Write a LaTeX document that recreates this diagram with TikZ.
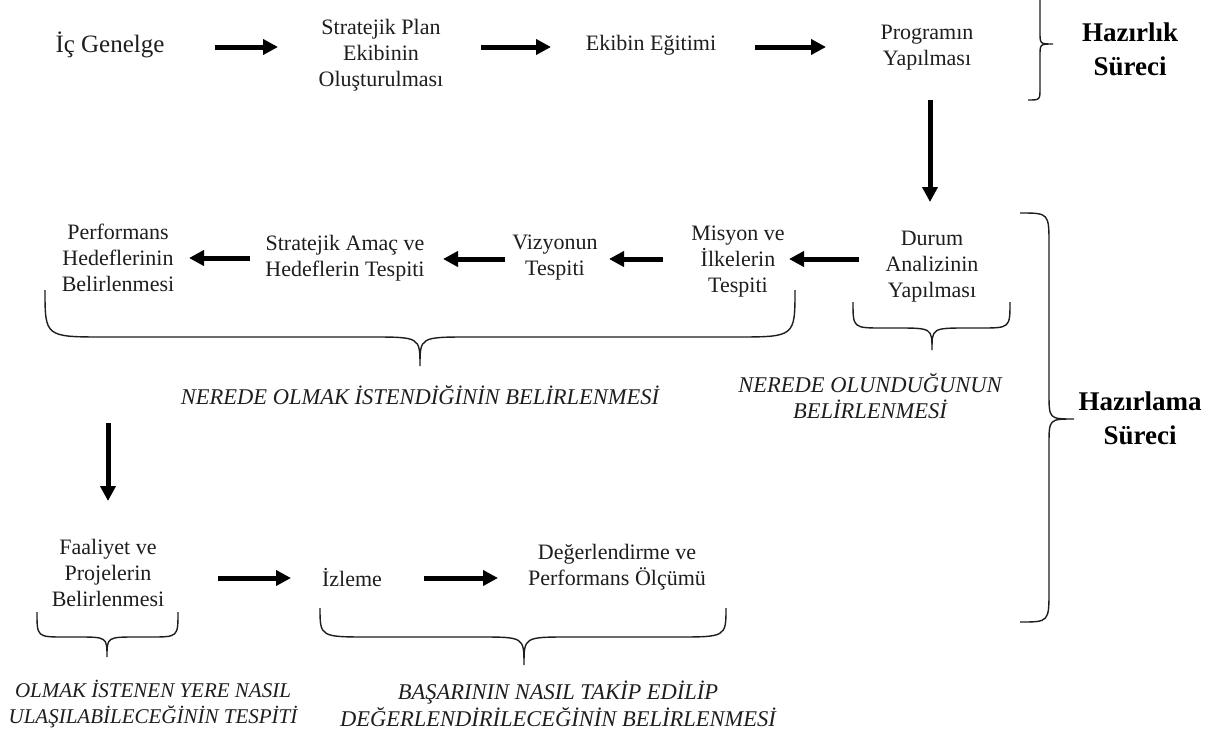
\documentclass[tikz,border=0pt]{standalone}
\usepackage{fontspec}
\setmainfont{Liberation Serif}
\usetikzlibrary{arrows.meta}
\definecolor{ink}{HTML}{1E1E1E}
\newcommand\myhbrace[8]{% xL xR yTop yMid xTip yTip endRadius tipWidth
  \draw[br] (#1,#3) .. controls (#1,#4) and (#1,#4) .. (#1+#7,#4)
    -- (#5-#8,#4) .. controls (#5,#4) and (#5,#4) .. (#5,#6)
    .. controls (#5,#4) and (#5,#4) .. (#5+#8,#4)
    -- (#2-#7,#4) .. controls (#2,#4) and (#2,#4) .. (#2,#3);}
\newcommand\myvbrace[6]{% xEnd xV yTop yBot xTip yTip
  \draw[br] (#1,#3) .. controls (#2,#3) and (#2,#3) .. (#2,#3+32)
    -- (#2,#6-26) .. controls (#2,#6) and (#2,#6) .. (#5,#6)
    .. controls (#2,#6) and (#2,#6) .. (#2,#6+26)
    -- (#2,#4-32) .. controls (#2,#4) and (#2,#4) .. (#1,#4);}
\begin{document}
\begin{tikzpicture}[x=1pt,y=-1pt,
  txt/.style={font=\fontsize{22}{26}\selectfont, align=center, inner sep=0pt, text=ink},
  itx/.style={font=\fontsize{22.5}{26.5}\selectfont\itshape, align=center, inner sep=0pt, text=ink},
  hd/.style={font=\fontsize{27}{34}\selectfont\bfseries, align=center, inner sep=0pt, text=black},
  arr/.style={line width=5pt, black, -{Triangle[length=15pt,width=15pt]}},
  br/.style={line width=1.4pt, ink}]
\fill[white] (0,0) rectangle (1226,731);
\useasboundingbox (0,0) rectangle (1226,731);

% row 1
\node[txt, font=\fontsize{25}{29}\selectfont] (ic) at (110,45) {İç Genelge};
\node[txt] (sp) at (381,55) {Stratejik Plan\\Ekibinin\\Oluşturulması};
\node[txt] (ee) at (651,45) {Ekibin Eğitimi};
\node[txt] (py) at (927,48) {Programın\\Yapılması};
\node[hd] (hs) at (1130,49) {Hazırlık\\Süreci};

% row 2
\node[txt] (da) at (932,267) {Durum\\Analizinin\\Yapılması};
\node[txt] (mi) at (738,262) {Misyon ve\\İlkelerin\\Tespiti};
\node[txt] (vt) at (555,258) {Vizyonun\\Tespiti};
\node[txt] (sa) at (345,258) {Stratejik Amaç ve\\Hedeflerin Tespiti};
\node[txt] (ph) at (118,258) {Performans\\Hedeflerinin\\Belirlenmesi};
\node[itx] (no) at (420,395) {NEREDE OLMAK İSTENDİĞİNİN BELİRLENMESİ};
\node[itx] (nu) at (870,396) {NEREDE OLUNDUĞUNUN\\BELİRLENMESİ};
\node[hd] (hz) at (1140,418) {Hazırlama\\Süreci};

% row 3
\node[txt] (fp) at (108,573) {Faaliyet ve\\Projelerin\\Belirlenmesi};
\node[txt] (iz) at (352,578) {İzleme};
\node[txt] (dp) at (617,567) {Değerlendirme ve\\Performans Ölçümü};
\node[itx, font=\fontsize{21}{26.5}\selectfont\itshape] (oi) at (153,704) {OLMAK İSTENEN YERE NASIL\\ULAŞILABİLECEĞİNİN TESPİTİ};
\node[itx] (bn) at (558,704) {BAŞARININ NASIL TAKİP EDİLİP\\DEĞERLENDİRİLECEĞİNİN BELİRLENMESİ};

% arrow end points
\coordinate (a1s) at (215,47); \coordinate (a1e) at (278,47);
\coordinate (a2s) at (481,47); \coordinate (a2e) at (551,47);
\coordinate (a3s) at (755,47); \coordinate (a3e) at (826,47);
\coordinate (v1s) at (930,100); \coordinate (v1e) at (930,202);
\coordinate (b1s) at (859,259); \coordinate (b1e) at (789,259);
\coordinate (b2s) at (663,259); \coordinate (b2e) at (609,259);
\coordinate (b3s) at (505,259); \coordinate (b3e) at (443,259);
\coordinate (b4s) at (250,258); \coordinate (b4e) at (189,258);
\coordinate (v2s) at (108,423); \coordinate (v2e) at (108,501);
\coordinate (c1s) at (218,578); \coordinate (c1e) at (291,578);
\coordinate (c2s) at (424,578); \coordinate (c2e) at (498,578);

\draw[arr] (a1s) -- (a1e);
\draw[arr] (a2s) -- (a2e);
\draw[arr] (a3s) -- (a3e);
\draw[arr] (v1s) -- (v1e);
\draw[arr] (b1s) -- (b1e);
\draw[arr] (b2s) -- (b2e);
\draw[arr] (b3s) -- (b3e);
\draw[arr] (b4s) -- (b4e);
\draw[arr] (v2s) -- (v2e);
\draw[arr] (c1s) -- (c1e);
\draw[arr] (c2s) -- (c2e);

% braces
\draw[br] (1040,0) -- (1040,32) .. controls (1040,44) and (1040,44) .. (1053,44)
  .. controls (1040,44) and (1040,44) .. (1040,56) -- (1040,88)
  .. controls (1040,100) and (1040,100) .. (1028,100);
\myvbrace{1020}{1049}{213}{622}{1074}{419}
\myhbrace{45}{795}{290}{337}{420}{366}{60}{50}
\myhbrace{853}{1010}{302}{328}{932}{350}{30}{36}
\myhbrace{37}{178}{612}{637}{107}{657}{28}{30}
\myhbrace{320}{726}{608}{637}{524}{665}{50}{45}
\end{tikzpicture}
\end{document}
